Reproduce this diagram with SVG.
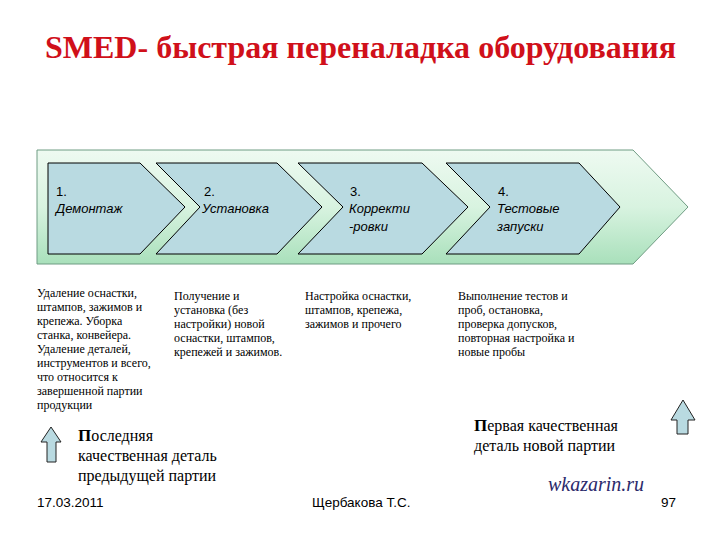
<svg xmlns="http://www.w3.org/2000/svg" width="720" height="540" viewBox="0 0 720 540">
<defs>
<linearGradient id="bg" x1="0" y1="0" x2="0" y2="1">
<stop offset="0" stop-color="#eefaf1"/>
<stop offset="0.5" stop-color="#d8f3e0"/>
<stop offset="1" stop-color="#a9e0bb"/>
</linearGradient>
<style>
.chev{fill:#b9dae1;stroke:#000;stroke-width:1}
.num{font-family:"Liberation Sans",Arial,sans-serif;font-size:13px;fill:#000}
.nm{font-family:"Liberation Sans",Arial,sans-serif;font-size:13px;font-style:italic;fill:#000}
.desc{font-family:"Liberation Serif","Times New Roman",serif;font-size:12px;fill:#000}
.note{font-family:"Liberation Serif","Times New Roman",serif;font-size:16px;fill:#000}
.foot{font-family:"Liberation Sans",Arial,sans-serif;font-size:13.5px;fill:#000}
.up{fill:#b9dae1;stroke:#222;stroke-width:1}
</style>
</defs>
<rect width="720" height="540" fill="#fff"/>
<text x="45" y="58" font-family="'Liberation Serif','Times New Roman',serif" font-size="32" font-weight="bold" fill="#d0101a" textLength="631" lengthAdjust="spacingAndGlyphs">SMED- быстрая переналадка оборудования</text>

<g id="background">
<polygon points="37,150 633,150 688,207 633,264 37,264" fill="url(#bg)" stroke="#6f9c83" stroke-width="1"/>
</g>

<g id="step1">
<polygon class="chev" points="48,163 140,163 185,207 140,254 48,254"/>
<text class="num" x="56" y="196">1.</text>
<text class="nm" x="56" y="213">Демонтаж</text>
</g>
<g id="step2">
<polygon class="chev" points="156,163 277,163 322,207 277,254 156,254 200,207"/>
<text class="num" x="204" y="196">2.</text>
<text class="nm" x="202" y="213">Установка</text>
</g>
<g id="step3">
<polygon class="chev" points="298,163 422,163 468,207 422,254 298,254 343,207"/>
<text class="num" x="350" y="196">3.</text>
<text class="nm" x="349" y="213">Корректи</text>
<text class="nm" x="349" y="231">-ровки</text>
</g>
<g id="step4">
<polygon class="chev" points="446,163 579,163 620,207 579,254 446,254 490,207"/>
<text class="num" x="498" y="196">4.</text>
<text class="nm" x="497" y="213">Тестовые</text>
<text class="nm" x="497" y="231">запуски</text>
</g>

<g id="desc1">
<text class="desc" x="37" y="297">Удаление оснастки,</text>
<text class="desc" x="37" y="311">штампов, зажимов и</text>
<text class="desc" x="37" y="325">крепежа. Уборка</text>
<text class="desc" x="37" y="339">станка, конвейера.</text>
<text class="desc" x="37" y="353">Удаление деталей,</text>
<text class="desc" x="37" y="367">инструментов и всего,</text>
<text class="desc" x="37" y="381">что относится к</text>
<text class="desc" x="37" y="395">завершенной партии</text>
<text class="desc" x="37" y="409">продукции</text>
</g>
<g id="desc2">
<text class="desc" x="174" y="300">Получение и</text>
<text class="desc" x="174" y="314">установка (без</text>
<text class="desc" x="174" y="328">настройки) новой</text>
<text class="desc" x="174" y="342">оснастки, штампов,</text>
<text class="desc" x="174" y="356">крепежей и зажимов.</text>
</g>
<g id="desc3">
<text class="desc" x="305" y="300">Настройка оснастки,</text>
<text class="desc" x="305" y="314">штампов, крепежа,</text>
<text class="desc" x="305" y="328">зажимов и прочего</text>
</g>
<g id="desc4">
<text class="desc" x="458" y="300">Выполнение тестов и</text>
<text class="desc" x="458" y="314">проб, остановка,</text>
<text class="desc" x="458" y="328">проверка допусков,</text>
<text class="desc" x="458" y="342">повторная настройка и</text>
<text class="desc" x="458" y="356">новые пробы</text>
</g>

<g id="last-part">
<polygon class="up" points="51,427 61,442 56,442 56,462 47,462 47,442 41,442"/>
<text class="note" x="78" y="441"><tspan font-weight="bold" font-size="17">П</tspan>оследняя</text>
<text class="note" x="78" y="461">качественная деталь</text>
<text class="note" x="78" y="481">предыдущей партии</text>
</g>
<g id="first-part">
<polygon class="up" points="683,400 695,420 688,420 688,434 677,434 677,420 671,420"/>
<text class="note" x="474" y="431"><tspan font-weight="bold" font-size="17">П</tspan>ервая качественная</text>
<text class="note" x="474" y="451">деталь новой партии</text>
</g>

<text x="548" y="491" font-family="'Liberation Serif','Times New Roman',serif" font-size="20" font-style="italic" fill="#2b2a6b">wkazarin.ru</text>
<text class="foot" x="37" y="507" font-size="14.5">17.03.2011</text>
<text class="foot" x="312" y="507">Щербакова Т.С.</text>
<text class="foot" x="661" y="507">97</text>
</svg>
